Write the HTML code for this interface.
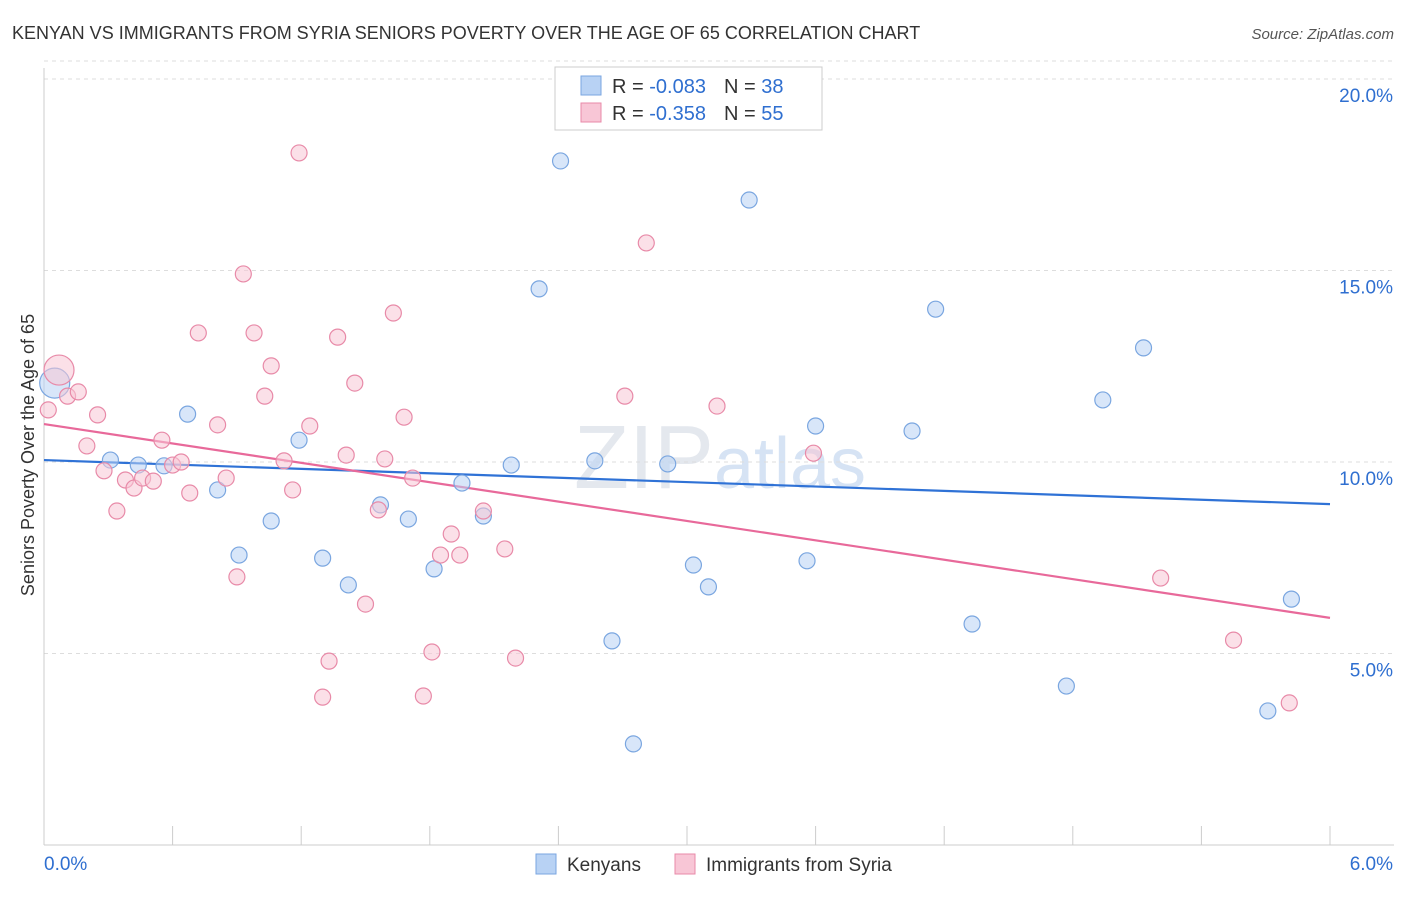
<!DOCTYPE html>
<html><head><meta charset="utf-8"><style>
body{margin:0;background:#fff;font-family:"Liberation Sans",sans-serif;}
svg text{font-family:"Liberation Sans",sans-serif;}
</style></head><body>
<svg id="chart" width="1406" height="892" viewBox="0 0 1406 892" xmlns="http://www.w3.org/2000/svg">
<text x="12" y="39" font-size="18" fill="#333">KENYAN VS IMMIGRANTS FROM SYRIA SENIORS POVERTY OVER THE AGE OF 65 CORRELATION CHART</text>
<text x="1394" y="39" font-size="15" fill="#555" text-anchor="end" font-style="italic">Source: ZipAtlas.com</text>
<text x="720" y="488" font-size="90" fill="#e4e8ee" text-anchor="middle" font-family="Liberation Serif"><tspan>ZIP</tspan><tspan fill="#d6e3f4" font-family="Liberation Sans" font-size="72">atlas</tspan></text>
<text transform="translate(34,455) rotate(-90)" font-size="18" fill="#333" text-anchor="middle">Seniors Poverty Over the Age of 65</text>
<g id="grid"></g><g id="axes"></g><g id="lines"></g><g id="pts"></g>
<g>
<rect x="555" y="67" width="267" height="63" fill="#fff" stroke="#ccc"/>
<rect x="581" y="76" width="20" height="19" fill="#b8d2f4" stroke="#7aa6e0"/>
<rect x="581" y="103" width="20" height="19" fill="#f8c6d6" stroke="#e88aa8"/>
<text x="612" y="93" font-size="20" fill="#333">R = <tspan fill="#2f6fd0">-0.083</tspan><tspan dx="18">N = </tspan><tspan fill="#2f6fd0">38</tspan></text>
<text x="612" y="120" font-size="20" fill="#333">R = <tspan fill="#2f6fd0">-0.358</tspan><tspan dx="18">N = </tspan><tspan fill="#2f6fd0">55</tspan></text>
</g>
<g>
<rect x="536" y="854" width="20" height="20" fill="#b8d2f4" stroke="#7aa6e0"/>
<text x="567" y="871" font-size="19" fill="#333">Kenyans</text>
<rect x="675" y="854" width="20" height="20" fill="#f8c6d6" stroke="#e88aa8"/>
<text x="706" y="871" font-size="19" fill="#333">Immigrants from Syria</text>
</g>
</svg>
<script>
const blueX=[0.05,0.31,0.44,0.56,0.67,0.81,0.91,1.06,1.19,1.30,1.42,1.57,1.70,1.82,1.95,2.05,2.18,2.31,2.41,2.57,2.65,2.75,2.91,3.03,3.10,3.29,3.56,3.60,4.05,4.16,4.33,4.77,4.94,5.13,5.71,5.82];
const blueY=[12.06,10.05,9.92,9.90,11.25,9.27,7.57,8.46,10.57,7.49,6.79,8.88,8.51,7.21,9.45,8.59,9.92,14.52,17.86,10.03,5.33,2.64,9.95,7.31,6.74,16.84,7.42,10.94,10.81,13.99,5.77,4.15,11.62,12.98,3.50,6.42];
const pinkX=[0.07,0.02,0.11,0.16,0.20,0.25,0.28,0.34,0.38,0.42,0.46,0.51,0.55,0.60,0.64,0.68,0.72,0.81,0.85,0.90,0.93,0.98,1.03,1.06,1.12,1.16,1.19,1.24,1.30,1.33,1.37,1.41,1.45,1.50,1.56,1.59,1.63,1.68,1.72,1.77,1.81,1.85,1.90,1.94,2.05,2.15,2.20,2.71,2.81,3.14,3.59,5.21,5.55,5.81];
const pinkY=[12.40,11.36,11.72,11.83,10.42,11.23,9.77,8.72,9.53,9.32,9.58,9.50,10.57,9.92,10.00,9.19,13.37,10.97,9.58,7.00,14.91,13.37,11.72,12.51,10.03,9.27,18.07,10.94,3.86,4.80,13.26,10.18,12.06,6.29,8.75,10.08,13.89,11.17,9.58,3.89,5.04,7.57,8.12,7.57,8.72,7.73,4.88,11.72,15.72,11.46,10.23,6.97,5.35,3.71];
const blueTrend=[10.05,8.90];
const pinkTrend=[10.99,5.93];
const yTicks=[5,10,15,20];
const yTickLabels=["5.0%","10.0%","15.0%","20.0%"];
const xTicks=[0,0.6,1.2,1.8,2.4,3.0,3.6,4.2,4.8,5.4,6.0];
const xTickLabels=["0.0%","6.0%"];
const NS="http://www.w3.org/2000/svg";
const sx=v=>44+v*(1286/6), sy=v=>845-v*38.3;
function mk(tag,attrs,parent){const e=document.createElementNS(NS,tag);for(const k in attrs)e.setAttribute(k,attrs[k]);document.getElementById(parent).appendChild(e);return e;}
yTicks.forEach((t,i)=>{
 const l=mk('line',{x1:44,x2:1394,y1:sy(t),y2:sy(t),stroke:'#ddd','stroke-dasharray':'4,4'},'grid');
 
 
 const tx=mk('text',{x:1393,y:sy(t)+23,'font-size':19,fill:'#2f6fd0','text-anchor':'end'},'grid');
 tx.textContent=yTickLabels[i];
 
 
});
const tg=mk('line',{x1:44,x2:1394,y1:sy(20)-18,y2:sy(20)-18,stroke:'#ddd','stroke-dasharray':'4,4'},'grid');
const ya=mk('line',{x1:44,x2:44,y1:68,y2:845,stroke:'#ccc'},'axes');


const xa=mk('line',{x1:44,x2:1394,y1:845,y2:845,stroke:'#ccc'},'axes');


xTicks.forEach(t=>{
 const l=mk('line',{x1:sx(t),x2:sx(t),y1:826,y2:845,stroke:'#ccc'},'axes');
 
 
});
[[0,'start',xTickLabels[0]],[6,'end',xTickLabels[1]]].forEach(([v,a,s])=>{
 const t=mk('text',{x:v===0?44:1393,y:870,'font-size':19,fill:'#2f6fd0','text-anchor':a},'axes');
 t.textContent=s;
 
 
});
function pts(X,Y,fill,stroke,name){
 X.forEach((x,i)=>{
  const c=mk('circle',{cx:sx(x),cy:sy(Y[i]),r:i===0?15:8,fill:fill,'fill-opacity':0.55,stroke:stroke,'stroke-width':1.2},'pts');
  
  
 });
}
pts(blueX,blueY,'#b8d2f4','#7aa6e0','kenyan-point');
pts(pinkX,pinkY,'#f8c6d6','#e88aa8','syria-point');
const bl=mk('line',{x1:sx(0),y1:sy(blueTrend[0]),x2:sx(6),y2:sy(blueTrend[1]),stroke:'#2f72d6','stroke-width':2.2},'lines');


const pl=mk('line',{x1:sx(0),y1:sy(pinkTrend[0]),x2:sx(6),y2:sy(pinkTrend[1]),stroke:'#e8699a','stroke-width':2.2},'lines');


</script>
</body></html>
